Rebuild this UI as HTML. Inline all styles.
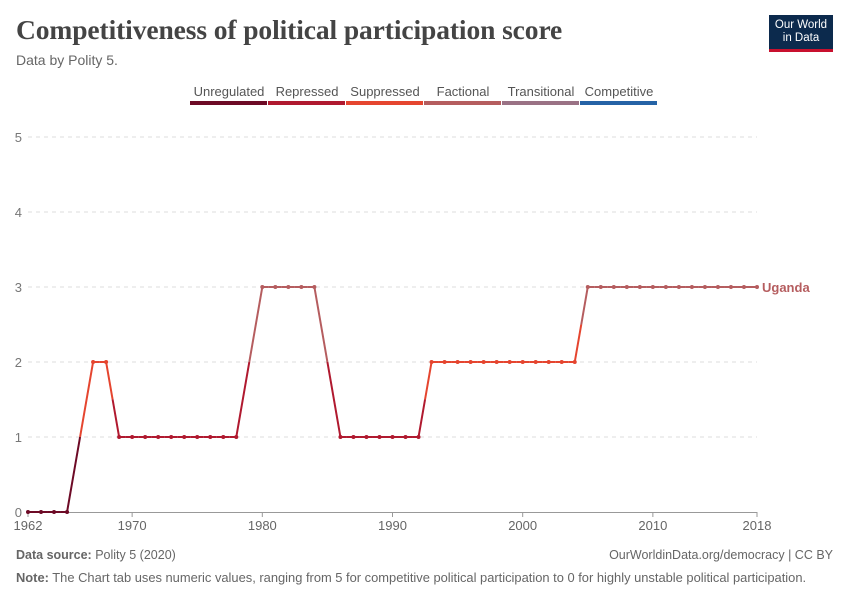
<!DOCTYPE html>
<html><head><meta charset="utf-8"><style>
body{margin:0;background:#fff;font-family:"Liberation Sans",sans-serif;}
#wrap{position:relative;width:850px;height:600px;overflow:hidden;}
.t{position:absolute;white-space:nowrap;}
</style></head><body>
<div id="wrap">
<div class="t" style="left:16px;top:14px;font-family:'Liberation Serif',serif;font-size:27.5px;color:#444;font-weight:bold;letter-spacing:-0.1px">Competitiveness of political participation score</div>
<div class="t" style="left:16px;top:52px;font-size:14px;color:#666">Data by Polity 5.</div>
<div style="position:absolute;left:769px;top:15px;width:64px;height:37px;background:#0c2a4d;border-bottom:3px solid #c8102e;color:#fff;font-size:11.5px;line-height:13px;text-align:center;padding-top:4px;box-sizing:border-box">Our World<br>in Data</div>
<svg id="svg" width="850" height="600" style="position:absolute;left:0;top:0"></svg>
<div class="t" style="left:16px;top:548px;font-size:12.5px;color:#666"><b>Data source:</b> Polity 5 (2020)</div>
<div class="t" style="right:17px;top:548px;font-size:12.5px;color:#666">OurWorldinData.org/democracy | CC BY</div>
<div class="t" style="left:16px;top:570px;font-size:12.9px;color:#666"><b>Note:</b> The Chart tab uses numeric values, ranging from 5 for competitive political participation to 0 for highly unstable political participation.</div>
</div>
<script>
const years=[1962,1963,1964,1965,1967,1968,1969,1970,1971,1972,1973,1974,1975,1976,1977,1978,1980,1981,1982,1983,1984,1986,1987,1988,1989,1990,1991,1992,1993,1994,1995,1996,1997,1998,1999,2000,2001,2002,2003,2004,2005,2006,2007,2008,2009,2010,2011,2012,2013,2014,2015,2016,2017,2018];
const values=[0,0,0,0,2,2,1,1,1,1,1,1,1,1,1,1,3,3,3,3,3,1,1,1,1,1,1,1,2,2,2,2,2,2,2,2,2,2,2,2,3,3,3,3,3,3,3,3,3,3,3,3,3,3];
const yTicks=[0,1,2,3,4,5];
const xTicks=[1962,1970,1980,1990,2000,2010,2018];
const legendLabels=["Unregulated","Repressed","Suppressed","Factional","Transitional","Competitive"];
const colors=["#6d0a26","#b0192f","#e5452f","#b55d5f","#9a7285","#2563a6"];
const NS="http://www.w3.org/2000/svg",svg=document.getElementById('svg');
const x=y=>28+(y-1962)*(729/56), yS=v=>512-v*75;
function mk(t,a,p){const e=document.createElementNS(NS,t);for(const k in a)e.setAttribute(k,a[k]);(p||svg).appendChild(e);return e;}
yTicks.forEach(v=>{
 if(v>0){const g=mk('line',{x1:28,x2:757,y1:yS(v),y2:yS(v),stroke:'#ddd','stroke-dasharray':'4,4'});
 
 }
 const t=mk('text',{x:22,y:yS(v)+5,'text-anchor':'end','font-size':13,fill:'#777','font-family':'Liberation Sans'});t.textContent=v;
 
 
});
const ax=mk('line',{x1:28,x2:757,y1:512.5,y2:512.5,stroke:'#999'});


xTicks.forEach(v=>{
 mk('line',{x1:x(v),x2:x(v),y1:512,y2:517,stroke:'#999'});
 const t=mk('text',{x:x(v),y:530,'text-anchor':'middle','font-size':13,fill:'#666','font-family':'Liberation Sans'});t.textContent=v;
 
 
});
let lx=190;
legendLabels.forEach((l,i)=>{
 const w=78;
 const t=mk('text',{x:lx+w/2,y:96,'text-anchor':'middle','font-size':13,fill:'#555','font-family':'Liberation Sans'});t.textContent=l;
 
 
 mk('rect',{x:lx,y:101,width:w-1,height:4,fill:colors[i]});
 lx+=w;
});
for(let i=0;i<years.length-1;i++){
 const x1=x(years[i]),y1=yS(values[i]),x2=x(years[i+1]),y2=yS(values[i+1]);
 const mx=(x1+x2)/2,my=(y1+y2)/2;
 const a=mk('line',{x1:x1,y1:y1,x2:mx,y2:my,stroke:colors[values[i]],'stroke-width':2});
 
 
 const b=mk('line',{x1:mx,y1:my,x2:x2,y2:y2,stroke:colors[values[i+1]],'stroke-width':2});
 
 
}
years.forEach((yr,i)=>{
 const c=mk('circle',{cx:x(yr),cy:yS(values[i]),r:2,fill:colors[values[i]]});
 
 
});
const last=values[values.length-1];
const lab=mk('text',{x:x(2018)+5,y:yS(last)+5,'font-size':13,fill:colors[last],'font-weight':'bold','font-family':'Liberation Sans'});lab.textContent='Uganda';


</script>
</body></html>
